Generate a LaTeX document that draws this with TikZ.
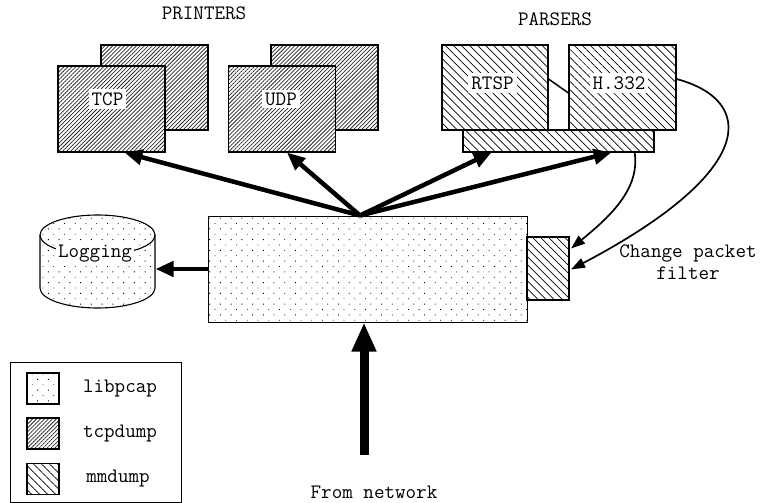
\documentclass[tikz,border=0pt]{standalone}
\usepackage{fontspec}
\usetikzlibrary{patterns.meta,arrows.meta,calc}
\begin{document}
\begin{tikzpicture}[x=1pt,y=-1pt,
  font=\ttfamily\fontsize{20.5}{22}\selectfont,
  pcap/.style={pattern={Dots[distance=7.6pt,angle=45,radius=0.6pt]},pattern color=black},
  tcpd/.style={preaction={fill=white},pattern={Lines[angle=45,distance=2.8pt,line width=0.75pt]},pattern color=black!85},
  mmd/.style={preaction={fill=white},pattern={Lines[angle=-45,distance=5.7pt,line width=0.7pt]},pattern color=black},
  box/.style={draw,line width=1.1pt,inner sep=0pt},
  lbl/.style={fill=white,inner sep=3pt},
  thick arrow/.style={line width=4.5pt,-{Triangle[length=18pt,width=15pt]}},
  curve arrow/.style={line width=1.7pt,-{Triangle[length=14pt,width=10pt]}}]
\useasboundingbox (0,0) rectangle (761,503);

% headings
\node (printers) at (204,13) {PRINTERS};
\node (parsers) at (555,19) {PARSERS};

% printers
\node[box,tcpd,minimum width=107pt,minimum height=85pt] (tcpback) at (154.5,87.5) {};
\node[box,tcpd,minimum width=107pt,minimum height=86pt] (tcp) at (111.5,109) {};
\node[lbl] (tcplbl) at (107.5,99) {TCP};
\node[box,tcpd,minimum width=107pt,minimum height=85pt] (udpback) at (324.5,87.5) {};
\node[box,tcpd,minimum width=107pt,minimum height=86pt] (udp) at (282,109) {};
\node[lbl] (udplbl) at (281,99) {UDP};

% parsers
\node[box,mmd,minimum width=191pt,minimum height=22pt] (bar) at (558.5,141) {};
\node[box,mmd,minimum width=106pt,minimum height=85pt] (rtsp) at (495,87.5) {};
\node[box,mmd,minimum width=107pt,minimum height=85pt] (h332) at (622.5,87.5) {};
\node[lbl] (rtsplbl) at (492.5,83) {RTSP};
\node[lbl] (h332lbl) at (619,83) {H.332};
\draw[line width=1.5pt] ([yshift=8.5pt]rtsp.east) -- ([yshift=-5.5pt]h332.west);

% libpcap main box and filter
\node[draw,line width=1pt,pcap,minimum width=319pt,minimum height=106pt] (main) at (367.5,269) {};
\node[box,mmd,minimum width=42pt,minimum height=63pt] (small) at (548,268.5) {};

% logging cylinder
\path[pcap] (40,235) -- (40,288) arc[start angle=180,end angle=0,x radius=57.5,y radius=20]
  -- (155,235) arc[start angle=0,end angle=-180,x radius=57.5,y radius=20] -- cycle;
\draw[line width=1.1pt] (40,235) -- (40,288) arc[start angle=180,end angle=0,x radius=57.5,y radius=20]
  -- (155,235) arc[start angle=0,end angle=-180,x radius=57.5,y radius=20];
\draw[line width=1.1pt] (155,235) arc[start angle=0,end angle=180,x radius=57.5,y radius=20];
\node[lbl,inner sep=2pt] (logging) at (95,254) {Logging};
\coordinate (loge) at (155.5,269);

% hub arrows
\coordinate (hub) at ([xshift=-7.5pt]main.north);
\draw[thick arrow] (hub) -- ([xshift=67pt]tcp.south west);
\draw[thick arrow] (hub) -- ([xshift=59pt]udp.south west);
\draw[thick arrow] (hub) -- ([xshift=29pt]bar.south west);
\draw[thick arrow] (hub) -- ([xshift=149pt]bar.south west);
\draw[thick arrow] (main.west) -- (loge);

% network arrow
\node (fromnet) at (374,492) {From network};
\coordinate (net) at (364,455);
\draw[line width=9pt,-{Triangle[length=29pt,width=23pt]}] (net) -- ([xshift=-3.5pt]main.south);

% feedback curves
\draw[curve arrow] ([xshift=172pt]bar.south west) .. controls (640,188) and (612,215) .. ([xshift=1.5pt,yshift=-12pt]small.north east);
\draw[curve arrow] ([yshift=8.5pt]h332.east) .. controls (755,100) and (760,170) .. ([xshift=1.5pt,yshift=-33pt]small.north east);
\node[align=center] (change) at (688,262) {Change packet\\filter};

% legend
\node[draw,line width=1pt,minimum width=171pt,minimum height=140pt] (legend) at (95.5,432) {};
\node[box,pcap,minimum width=32pt,minimum height=31pt] (swpcap) at (43,388.5) {};
\node[box,tcpd,minimum width=32pt,minimum height=31pt] (swtcpd) at (43,433.5) {};
\node[box,mmd,minimum width=32pt,minimum height=31pt] (swmmd) at (43,479) {};
\node (lpcap) at (120,389) {libpcap};
\node (ltcpd) at (120,434) {tcpdump};
\node (lmmd) at (118,479) {mmdump};
\end{tikzpicture}
\end{document}
